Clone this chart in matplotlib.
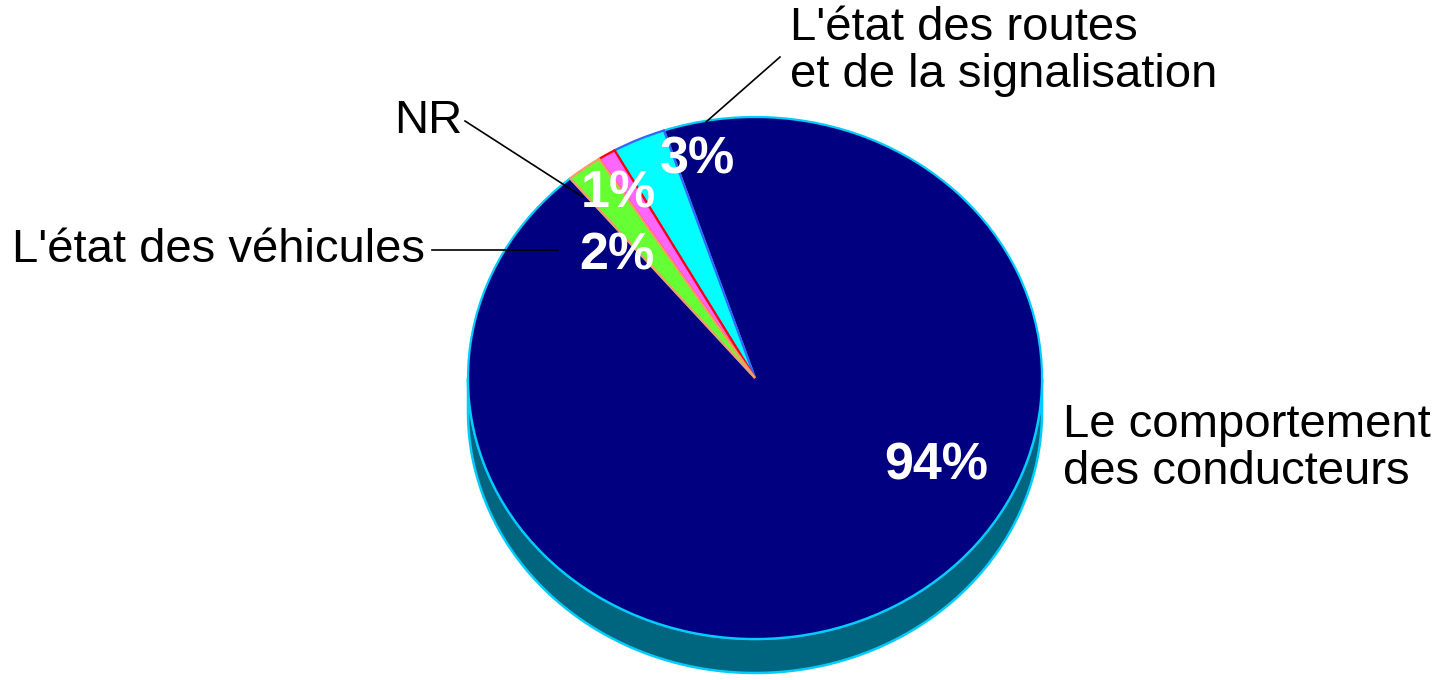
import numpy as np
import matplotlib
matplotlib.use("Agg")
import matplotlib.pyplot as plt
from matplotlib.patches import Wedge, Polygon
from matplotlib.transforms import Affine2D

# ---- data ----
categories = ["L'état des routes\net de la signalisation", "NR",
              "L'état des véhicules", "Le comportement\ndes conducteurs"]
values = [3, 1, 2, 94]
pct_labels = ["3%", "1%", "2%", "94%"]
face_colors = ["#00FFFF", "#FF66FF", "#66FF33", "#000080"]
edge_colors = ["#3366FF", "#FF0000", "#FF9966", "#00CCFF"]

plt.rcParams['font.family'] = ['Liberation Sans', 'DejaVu Sans']

W, H = 1447, 680
fig = plt.figure(figsize=(W / 100, H / 100), dpi=100)
ax = fig.add_axes([0, 0, 1, 1])
ax.set_xlim(0, W)
ax.set_ylim(H, 0)
ax.axis('off')

# pie geometry (pixel layout)
cx, cy = 755.0, 378.0
rx, ry = 287.0, 261.0
depth = 34.0
start_angle = 108.5

# side of the 3D pie (lower half)
t = np.radians(np.linspace(180, 360, 200))
top_x = cx + rx * np.cos(t)
top_y = cy - ry * np.sin(t)
side_pts = np.column_stack([np.concatenate([top_x, top_x[::-1]]),
                            np.concatenate([top_y, top_y[::-1] + depth])])
ax.add_patch(Polygon(side_pts, closed=True, facecolor="#006680",
                     edgecolor="#00CCFF", linewidth=1.8, zorder=1))

trans = Affine2D().scale(rx, -ry).translate(cx, cy) + ax.transData
total = float(sum(values))
a0 = start_angle
wedges = []
for v, fc, ec in zip(values, face_colors, edge_colors):
    a1 = a0 + 360.0 * v / total
    w = Wedge((0, 0), 1.0, a0, a1, facecolor=fc, edgecolor=ec,
              linewidth=1.6, transform=trans)
    wedges.append(w)
    a0 = a1
# draw navy first so the small slices' edges stay visible
order = [3, 0, 1, 2]
for z, idx in enumerate(order):
    wedges[idx].set_zorder(2 + z)
    ax.add_patch(wedges[idx])

# percentage labels (bold white)
pct_pos = [(697, 173), (618, 207), (617, 270), (936, 479)]
for txt, (x, y) in zip(pct_labels, pct_pos):
    ax.text(x, y, txt, color="white", fontsize=37.5, fontweight="bold",
            ha="center", va="baseline", zorder=10)

# category labels (multi-line texts anchored on their last baseline)
lab_fs = 34
ls = 1.09
ax.text(790, 87, categories[0], fontsize=lab_fs, ha="left", va="baseline",
        linespacing=ls)
ax.text(462, 133, categories[1], fontsize=lab_fs, ha="right", va="baseline")
ax.text(12, 262, categories[2], fontsize=lab_fs, ha="left", va="baseline")
ax.text(1063, 484, categories[3], fontsize=lab_fs, ha="left", va="baseline",
        linespacing=ls)

# leader lines
ax.plot([780, 706], [57, 122], color="black", lw=1.2, zorder=11)
ax.plot([465, 583], [121, 197], color="black", lw=1.2, zorder=11)
ax.plot([432, 558], [250, 250], color="black", lw=1.2, zorder=11)

fig.savefig("out.png", dpi=100)
